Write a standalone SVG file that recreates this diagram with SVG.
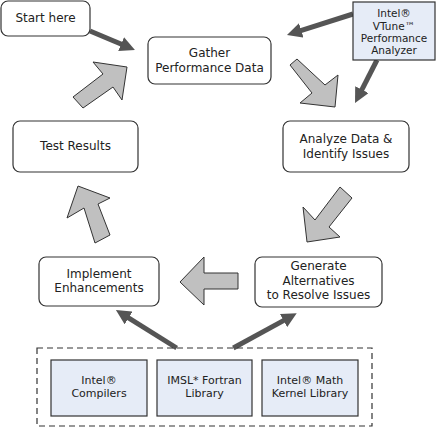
<svg xmlns="http://www.w3.org/2000/svg" width="436" height="428" viewBox="0 0 436 428">
<defs>
<marker id="ah" viewBox="0 0 10 10" refX="2" refY="5" markerWidth="3" markerHeight="3" orient="auto" markerUnits="strokeWidth">
<path d="M0,0 L10,5 L0,10 z" fill="#555"/>
</marker>
<style>
.box{fill:#fff;stroke:#333;stroke-width:1.2}
.blue{fill:#e6ecf7;stroke:#333;stroke-width:1.2}
.dash{fill:none;stroke:#333;stroke-width:1.2;stroke-dasharray:6,4}
text{font-family:"DejaVu Sans","Verdana",sans-serif;font-size:12px;fill:#222;text-anchor:middle}
.sm{font-size:11px}
.xs{font-size:10.5px}
.conn{stroke:#555;stroke-width:5;fill:none;marker-end:url(#ah)}
.blk{fill:#c0c0c0;stroke:#333;stroke-width:1}
</style>
</defs>
<rect width="436" height="428" fill="#fff"/>
<g id="connectors">
<line class="conn" x1="90" y1="31" x2="123.9" y2="45.3"/>
<line class="conn" x1="353" y1="14" x2="298.4" y2="31.4"/>
<line class="conn" x1="377" y1="60" x2="360.5" y2="92.3"/>
<line class="conn" x1="176.7" y1="348" x2="126.1" y2="316.4"/>
<line class="conn" x1="233.3" y1="348" x2="286.2" y2="319.1"/>
<polygon class="blk" points="73,97 103,74 93,62 127,67 122,100 113,87 83,108"/>
<polygon class="blk" points="297,59 325,85 338,75 335,107 300,103 312,93 290,65"/>
<polygon class="blk" points="340,187 352,198 329,227 340,237 307,242 303,207 315,220"/>
<polygon class="blk" points="180,282 204,257 204,273 238,273 238,289 204,289 204,305"/>
<polygon class="blk" points="78,186 110,198 98,204 110,235 95,243 84,208 67,218"/>
</g>
<g id="start">
<rect class="box" x="1" y="1" width="89" height="35" rx="7"/>
<text x="45.5" y="22">Start here</text>
</g>
<g id="gather">
<rect class="box" x="148" y="37" width="123" height="47" rx="7"/>
<text x="209.5" y="56.5">Gather</text>
<text x="209.5" y="71.5">Performance Data</text>
</g>
<g id="vtune">
<rect class="blue" x="353" y="2" width="82" height="58"/>
<text class="xs" x="394" y="17">Intel®</text>
<text class="xs" x="394" y="30">VTune™</text>
<text class="xs" x="394" y="42">Performance</text>
<text class="xs" x="394" y="54">Analyzer</text>
</g>
<g id="analyze">
<rect class="box" x="283" y="121" width="126" height="51" rx="7"/>
<text x="346" y="142.5">Analyze Data &amp;</text>
<text x="346" y="157.5">Identify Issues</text>
</g>
<g id="test">
<rect class="box" x="13" y="121" width="125" height="51" rx="7"/>
<text x="75.5" y="149.5">Test Results</text>
</g>
<g id="generate">
<rect class="box" x="255" y="257" width="127" height="50" rx="7"/>
<text x="318.5" y="270">Generate</text>
<text x="318.5" y="284.5">Alternatives</text>
<text x="318.5" y="299">to Resolve Issues</text>
</g>
<g id="implement">
<rect class="box" x="39" y="257" width="120" height="49" rx="7"/>
<text x="99" y="277.5">Implement</text>
<text x="99" y="292">Enhancements</text>
</g>
<g id="tools">
<rect class="dash" x="37" y="348" width="335" height="78"/>
</g>
<g id="compilers">
<rect class="blue" x="51" y="360" width="96" height="56"/>
<text class="sm" x="99" y="384">Intel®</text>
<text class="sm" x="99" y="397">Compilers</text>
</g>
<g id="imsl">
<rect class="blue" x="157" y="360" width="95" height="56"/>
<text class="sm" x="204.5" y="384">IMSL* Fortran</text>
<text class="sm" x="204.5" y="397">Library</text>
</g>
<g id="mkl">
<rect class="blue" x="262" y="360" width="96" height="56"/>
<text class="sm" x="310" y="384">Intel® Math</text>
<text class="sm" x="310" y="397">Kernel Library</text>
</g>
</svg>
